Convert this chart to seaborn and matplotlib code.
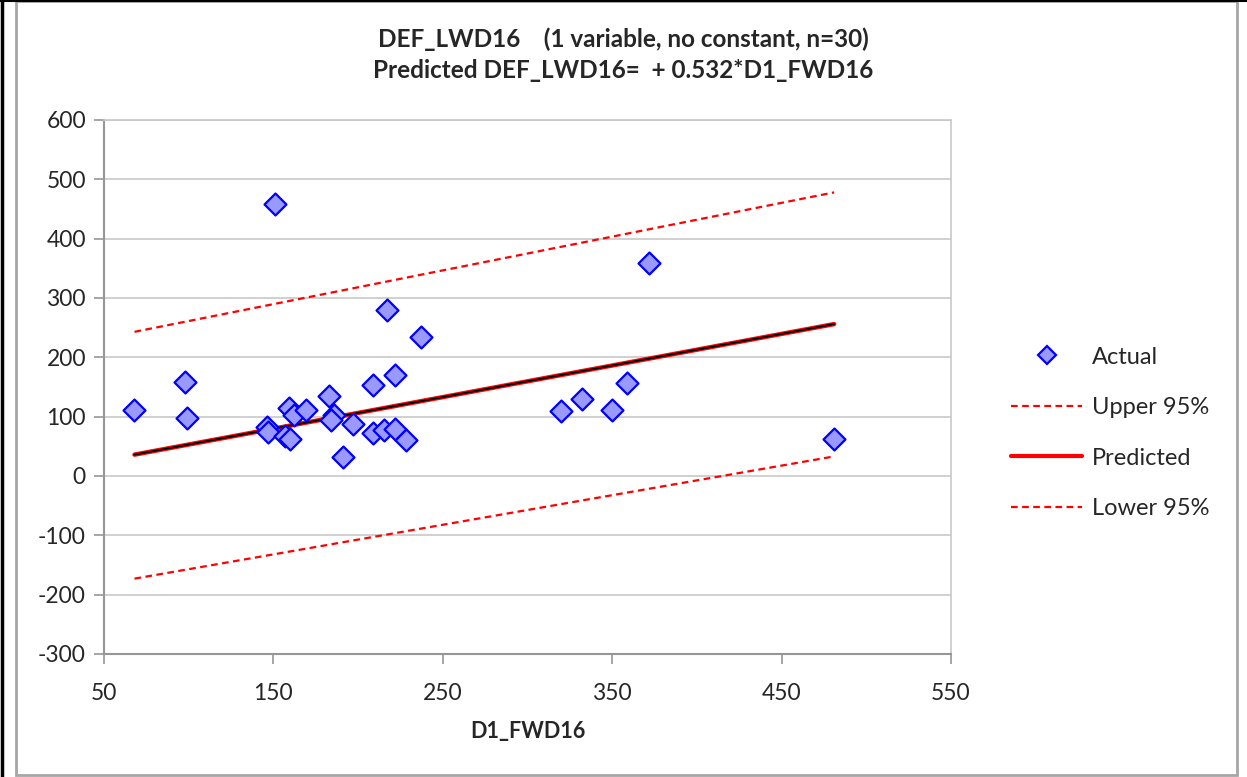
import numpy as np
import pandas as pd
import matplotlib
matplotlib.use("Agg")
import matplotlib.pyplot as plt
import seaborn as sns
from matplotlib.patches import Rectangle
from matplotlib.lines import Line2D

# ---------------------------------------------------------------------------
# Data
# ---------------------------------------------------------------------------
d1_fwd16 = [68, 98, 99, 151, 217, 237, 209, 222, 183, 159,
            162, 169, 146, 147, 157, 160, 186, 184, 197, 191,
            209, 215, 222, 228, 372, 320, 332, 350, 359, 481]
def_lwd16 = [111, 158, 98, 458, 280, 234, 153, 171, 134, 115,
             103, 111, 83, 75, 67, 63, 103, 94, 87, 32,
             73, 77, 80, 60, 359, 110, 129, 111, 157, 62]

line_x = [68, 481]
upper_95 = [243, 478]
predicted = [36, 256]
lower_95 = [-173, 33]

x_ticks = [50, 150, 250, 350, 450, 550]
y_ticks = [-300, -200, -100, 0, 100, 200, 300, 400, 500, 600]

title = "DEF_LWD16    (1 variable, no constant, n=30)\nPredicted DEF_LWD16=  + 0.532*D1_FWD16"

# ---------------------------------------------------------------------------
sns.set_style("white")
plt.rcParams["font.family"] = ["Lato", "DejaVu Sans"]
plt.rcParams["axes.unicode_minus"] = False

pts = pd.DataFrame({"x": d1_fwd16, "y": def_lwd16})
lines = pd.DataFrame({"x": line_x, "upper": upper_95,
                      "pred": predicted, "lower": lower_95})

W, H = 1247, 777
fig = plt.figure(figsize=(W / 100, H / 100), dpi=100)
ax = fig.add_axes([104 / W, 1 - 654 / H, 847 / W, 534 / H])

RED = "#FF0000"
DASH = (0, (3, 2))
sns.lineplot(lines, x="x", y="upper", ax=ax, color=RED, lw=1.6, linestyle=DASH, zorder=2)
sns.lineplot(lines, x="x", y="lower", ax=ax, color=RED, lw=1.6, linestyle=DASH, zorder=2)
sns.lineplot(lines, x="x", y="pred", ax=ax, color=RED, lw=3.2, zorder=2)
sns.lineplot(lines, x="x", y="pred", ax=ax, color="black", lw=1.4, zorder=3)
sns.scatterplot(pts, x="x", y="y", ax=ax, marker="D", s=125,
                color="#9999FF", edgecolor="#0000FF", linewidth=1.6, zorder=4)

ax.set_xlim(50, 550)
ax.set_ylim(-300, 600)
ax.set_xticks(x_ticks)
ax.set_yticks(y_ticks)
ax.yaxis.grid(True, color="#C8C8C8", lw=1.2)
ax.xaxis.grid(False)
ax.set_axisbelow(True)
for side in ["top", "right"]:
    ax.spines[side].set_color("#C8C8C8")
    ax.spines[side].set_linewidth(1.2)
for side in ["left", "bottom"]:
    ax.spines[side].set_color("#969696")
    ax.spines[side].set_linewidth(1.5)
ax.tick_params(axis="both", direction="out", length=7, width=1.2,
               color="#969696", labelsize=16.5, bottom=True, left=True)
ax.tick_params(axis="y", pad=6)
ax.tick_params(axis="x", pad=14)
ax.set_xlabel("D1_FWD16", fontsize=15.5, fontweight="bold", labelpad=12)
ax.set_ylabel("")
fig.suptitle(title, fontsize=17.5, fontweight="bold", y=1 - 27 / H,
             va="top", linespacing=1.45)

handles = [
    Line2D([], [], marker="D", ls="none", markersize=9,
           markerfacecolor="#9999FF", markeredgecolor="#0000FF", markeredgewidth=1.6),
    Line2D([], [], color=RED, lw=1.6, ls=DASH),
    Line2D([], [], color=RED, lw=3),
    Line2D([], [], color=RED, lw=1.6, ls=DASH),
]
fig.legend(handles, ["Actual", "Upper 95%", "Predicted", "Lower 95%"],
           loc="center left", bbox_to_anchor=(990 / W, 1 - 433 / H),
           frameon=False, fontsize=17, labelspacing=1.25, handlelength=3.0,
           handletextpad=0.4)

# outer frame: grey chart border plus black screenshot edges
fig.patches.append(Rectangle((16 / W, 1 - 775 / H), (1237 - 16) / W, 774 / H,
                             transform=fig.transFigure, fill=False,
                             edgecolor="#A6A6A6", lw=2))
fig.lines.append(Line2D([1.5 / W, 1.5 / W], [0, 1], transform=fig.transFigure,
                        color="black", lw=2.5))
fig.lines.append(Line2D([0, 1], [1 - 0.5 / H, 1 - 0.5 / H], transform=fig.transFigure,
                        color="black", lw=1.5))

fig.savefig("out.png", dpi=100)
